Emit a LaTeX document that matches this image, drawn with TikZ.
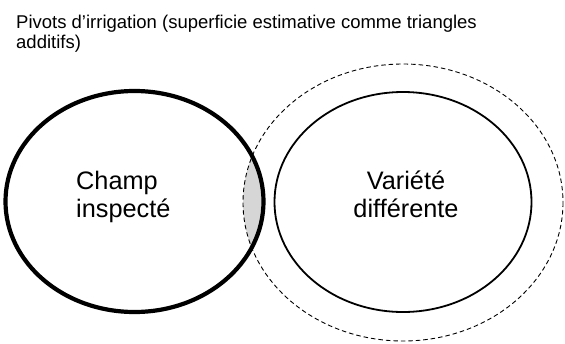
\documentclass[tikz,border=0pt]{standalone}
\usepackage{fontspec}
\setmainfont{Liberation Sans}
\begin{document}
\begin{tikzpicture}[x=1pt,y=-1pt,
  title/.style={anchor=base west,inner sep=0pt,font=\fontsize{18.5}{21}\selectfont},
  label/.style={inner sep=0pt,font=\fontsize{25.3}{28}\selectfont},
  thick ring/.style={line width=4.2pt},
  thin ring/.style={line width=1.8pt},
  zone ring/.style={line width=0.9pt,dash pattern=on 4.5pt off 3pt}]
\useasboundingbox (0,0) rectangle (565,343);
% shaded overlap
\begin{scope}
  \clip (134.5,201.5) ellipse (129 and 110.5);
  \fill[black!16] (403,202.5) ellipse (160 and 138.5);
\end{scope}
\draw[zone ring] (403,202.5) ellipse (160 and 138.5);
\draw[thin ring] (403,202) ellipse (128.5 and 110);
\draw[thick ring] (134.5,201.5) ellipse (129 and 110.5);
\node[title] (t1) at (16,28) {Pivots d’irrigation (superficie estimative comme triangles};
\node[title] (t2) at (16,48) {additifs)};
\node[label,align=left,anchor=base west] (a) at (76,217) {Champ\\inspecté};
\node[label,align=center,anchor=base] (b) at (406,217) {Variété\\différente};
\end{tikzpicture}
\end{document}
